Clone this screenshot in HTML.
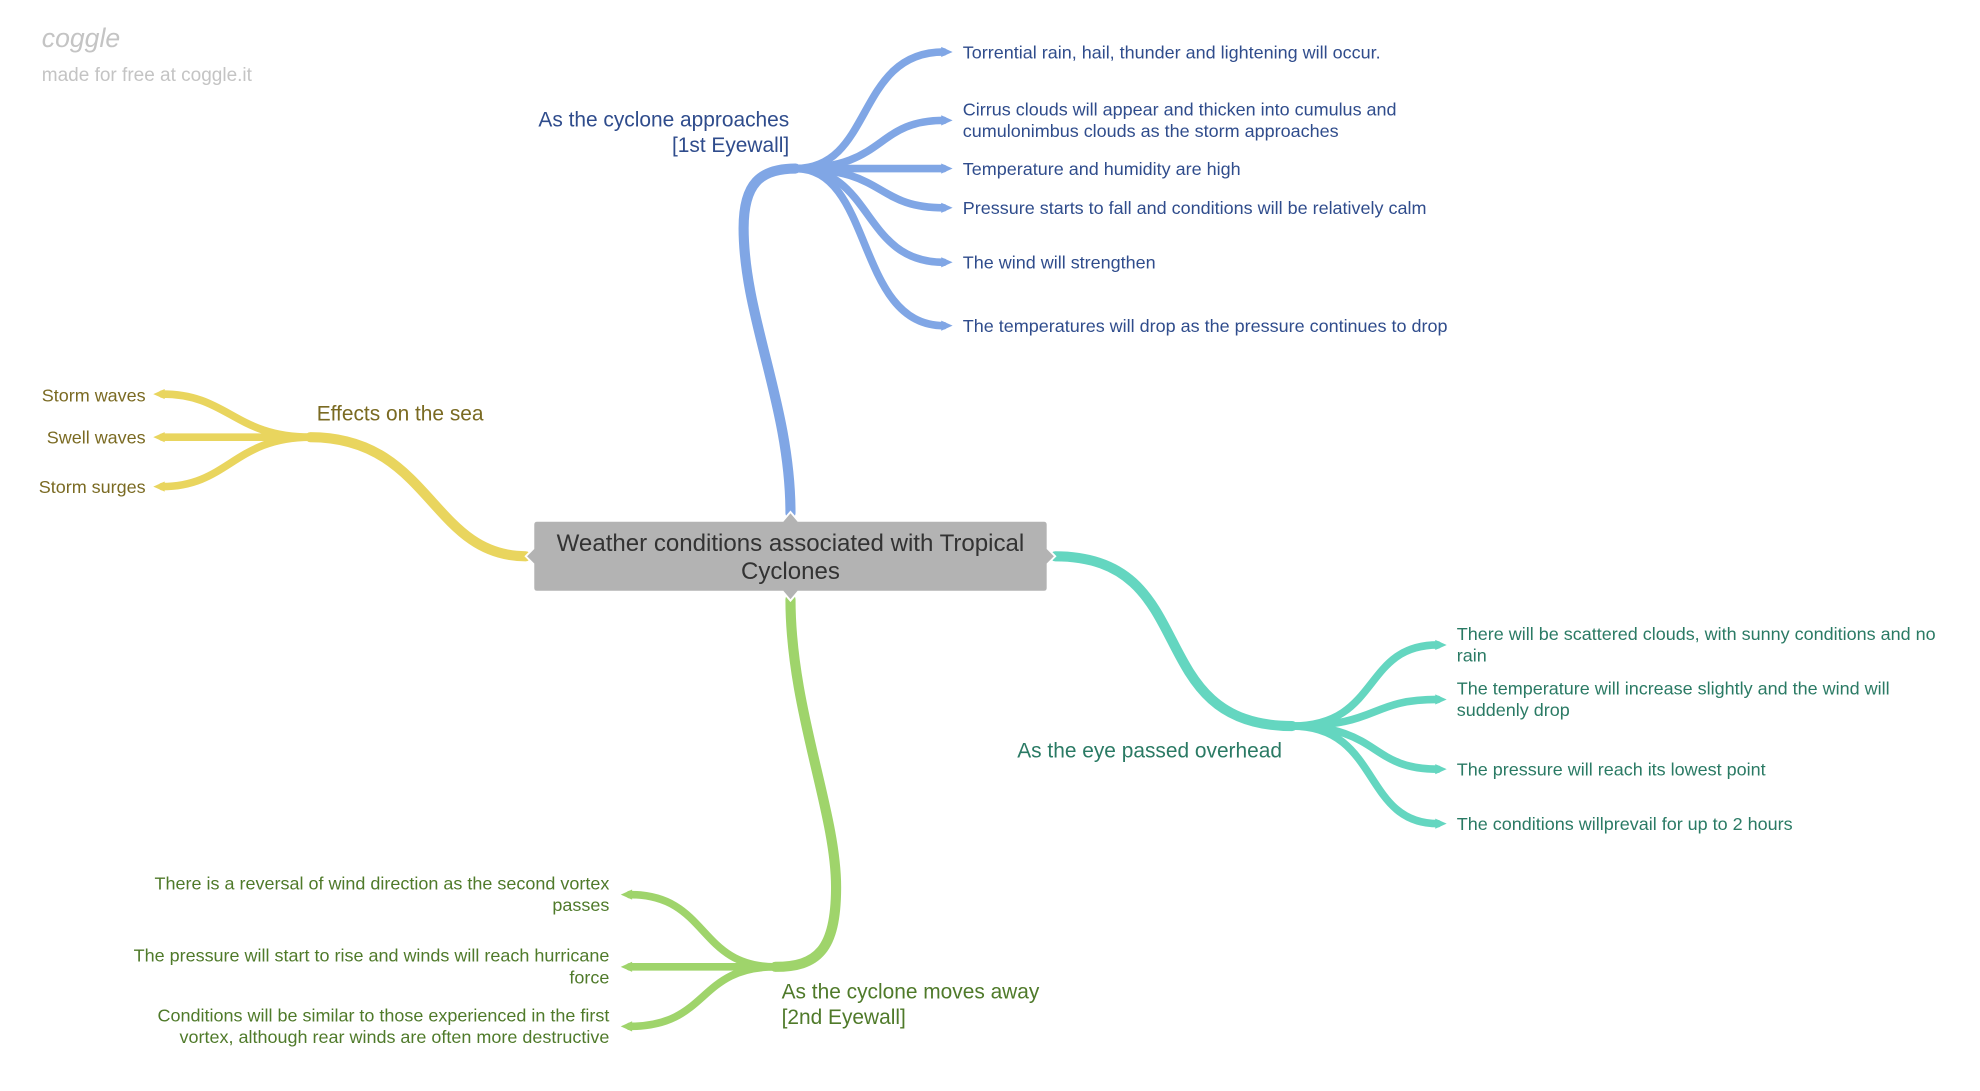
<!DOCTYPE html>
<html><head><meta charset="utf-8"><style>
html,body{margin:0;padding:0;background:#fff;}
svg{display:block;}
text{font-family:"Liberation Sans",sans-serif;}
</style></head><body>
<svg width="1980" height="1091" viewBox="0 0 1563 861" preserveAspectRatio="none" xmlns="http://www.w3.org/2000/svg">
<text x="33" y="37" font-size="21" fill="#c4c4c4" font-style="italic" font-family="Liberation Serif, serif">coggle</text>
<text x="33" y="64" font-size="15" fill="#c4c4c4">made for free at coggle.it</text>

<!-- blue -->
<g fill="none" stroke="#80a6e5" stroke-linecap="round">
<path d="M624,405 C624,320 587,250 587,180 C587,145 600,133 628,133" stroke-width="8"/>
<path d="M628,133 C690,133 675,41 745,41" stroke-width="6"/>
<path d="M628,133 C700,133 690,95 745,95" stroke-width="6"/>
<path d="M628,133 L745,133" stroke-width="6"/>
<path d="M628,133 C700,133 690,164 745,164" stroke-width="6"/>
<path d="M628,133 C690,133 680,207 745,207" stroke-width="6"/>
<path d="M628,133 C690,133 675,257 745,257" stroke-width="6"/>
</g>
<g fill="#80a6e5">
<polygon points="743,37 752,41 743,45"/><polygon points="743,91 752,95 743,99"/><polygon points="743,129 752,133 743,137"/><polygon points="743,160 752,164 743,168"/><polygon points="743,203 752,207 743,211"/><polygon points="743,253 752,257 743,261"/>
</g>
<g fill="#2f4c8c" font-size="14.2">
<text x="760" y="46">Torrential rain, hail, thunder and lightening will occur.</text>
<text x="760" y="91">Cirrus clouds will appear and thicken into cumulus and</text>
<text x="760" y="108">cumulonimbus clouds as the storm approaches</text>
<text x="760" y="138">Temperature and humidity are high</text>
<text x="760" y="169">Pressure starts to fall and conditions will be relatively calm</text>
<text x="760" y="212">The wind will strengthen</text>
<text x="760" y="262">The temperatures will drop as the pressure continues to drop</text>
</g>
<g fill="#2f4c8c" font-size="16.5" text-anchor="end">
<text x="623" y="100">As the cyclone approaches</text>
<text x="623" y="120">[1st Eyewall]</text>
</g>

<!-- yellow -->
<g fill="none" stroke="#e9d55e" stroke-linecap="round">
<path d="M415,439 C340,439 340,345 245,345" stroke-width="8"/>
<path d="M245,345 C185,345 180,311 128,311" stroke-width="6"/>
<path d="M245,345 L128,345" stroke-width="6"/>
<path d="M245,345 C185,345 180,384 128,384" stroke-width="6"/>
</g>
<g fill="#e9d55e"><polygon points="130,307 121,311 130,315"/><polygon points="130,341 121,345 130,349"/><polygon points="130,380 121,384 130,388"/></g>
<text x="250" y="332" font-size="16.5" fill="#7a6a22">Effects on the sea</text>
<g fill="#7a6a22" font-size="14.2" text-anchor="end">
<text x="115" y="317">Storm waves</text><text x="115" y="350">Swell waves</text><text x="115" y="389">Storm surges</text>
</g>

<!-- teal -->
<g fill="none" stroke="#64d6c0" stroke-linecap="round">
<path d="M833,439 C950,439 900,573 1020,573" stroke-width="8"/>
<path d="M1020,573 C1090,573 1075,509 1135,509" stroke-width="6"/>
<path d="M1020,573 C1090,573 1080,552 1135,552" stroke-width="6"/>
<path d="M1020,573 C1090,573 1080,607 1135,607" stroke-width="6"/>
<path d="M1020,573 C1090,573 1075,650 1135,650" stroke-width="6"/>
</g>
<g fill="#64d6c0"><polygon points="1133,505 1142,509 1133,513"/><polygon points="1133,548 1142,552 1133,556"/><polygon points="1133,603 1142,607 1133,611"/><polygon points="1133,646 1142,650 1133,654"/></g>
<text x="1012" y="598" font-size="16.5" fill="#2a7a64" text-anchor="end">As the eye passed overhead</text>
<g fill="#2a7a64" font-size="14.2">
<text x="1150" y="505">There will be scattered clouds, with sunny conditions and no</text>
<text x="1150" y="522">rain</text>
<text x="1150" y="548">The temperature will increase slightly and the wind will</text>
<text x="1150" y="565">suddenly drop</text>
<text x="1150" y="612">The pressure will reach its lowest point</text>
<text x="1150" y="655">The conditions willprevail for up to 2 hours</text>
</g>

<!-- green -->
<g fill="none" stroke="#9fd46b" stroke-linecap="round">
<path d="M624,473 C624,560 660,640 660,700 C660,750 645,763 612,763" stroke-width="8"/>
<path d="M612,763 C550,763 560,706 497,706" stroke-width="6"/>
<path d="M612,763 L497,763" stroke-width="6"/>
<path d="M612,763 C550,763 560,810 497,810" stroke-width="6"/>
</g>
<g fill="#9fd46b"><polygon points="499,702 490,706 499,710"/><polygon points="499,759 490,763 499,767"/><polygon points="499,806 490,810 499,814"/></g>
<g fill="#4f7a2a" font-size="16.5">
<text x="617" y="788">As the cyclone moves away</text>
<text x="617" y="808">[2nd Eyewall]</text>
</g>
<g fill="#4f7a2a" font-size="14.2" text-anchor="end">
<text x="481" y="702">There is a reversal of wind direction as the second vortex</text>
<text x="481" y="719">passes</text>
<text x="481" y="759">The pressure will start to rise and winds will reach hurricane</text>
<text x="481" y="776">force</text>
<text x="481" y="806">Conditions will be similar to those experienced in the first</text>
<text x="481" y="823">vortex, although rear winds are often more destructive</text>
</g>

<!-- center -->
<path d="M424,411 L618,411 L624,404 L630,411 L824,411 Q827,411 827,414 L827,433 L833,439 L827,445 L827,464 Q827,467 824,467 L630,467 L624,474 L618,467 L424,467 Q421,467 421,464 L421,445 L415,439 L421,433 L421,414 Q421,411 424,411 Z" fill="#b3b3b3" stroke="#fff" stroke-width="1.5"/>
<g fill="#333" font-size="19" text-anchor="middle">
<text x="624" y="435">Weather conditions associated with Tropical</text>
<text x="624" y="457">Cyclones</text>
</g>
</svg>
</body></html>
